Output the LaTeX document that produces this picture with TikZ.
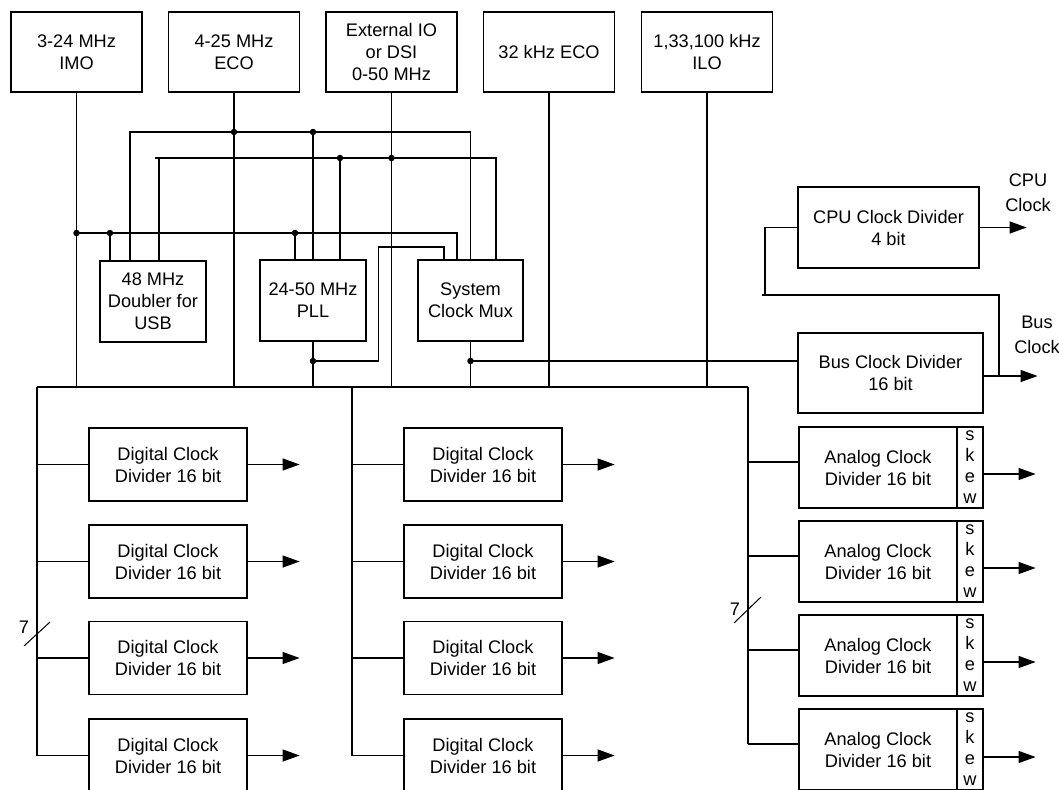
\documentclass[tikz,border=0pt]{standalone}
\usepackage{fontspec}
\setmainfont{Liberation Sans}
\usetikzlibrary{arrows.meta}
\begin{document}
\begin{tikzpicture}[x=1pt,y=-1pt,line width=1.2pt,
  txt/.style={font=\fontsize{18.2}{22}\selectfont},
  box/.style={draw,inner sep=0pt,align=center,txt},
  src/.style={box,minimum width=131pt,minimum height=80pt},
  mid/.style={box,minimum width=106pt,minimum height=81pt},
  dig/.style={box,minimum width=158pt,minimum height=73pt},
  ana/.style={box,minimum width=158pt,minimum height=81pt},
  skw/.style={box,minimum width=26pt,minimum height=81pt,font=\fontsize{18.2}{21}\selectfont},
  lbl/.style={align=center,inner sep=0pt,font=\fontsize{18.2}{25.5}\selectfont},
  arr/.style={-{Triangle[length=17pt,width=12pt]}},
  dot/.style={circle,fill=black,inner sep=0pt,minimum size=6.5pt}]
\useasboundingbox (0,0) rectangle (1059,789);
\fill[white] (0,0) rectangle (1059,789);
\clip (0,0) rectangle (1059,789);

% sources
\node[src] (imo)   at (76.5,52) {3-24 MHz\\IMO};
\node[src] (eco)   at (234,52)  {4-25 MHz\\ECO};
\node[src] (ext)   at (391.5,52){External IO\\or DSI\\0-50 MHz};
\node[src] (eco32) at (549,52)  {32 kHz ECO};
\node[src] (ilo)   at (707,52)  {1,33,100 kHz\\ILO};

% middle blocks
\node[mid] (dbl) at (153,301.5) {48 MHz\\Doubler for\\USB};
\node[mid] (pll) at (313,300.5) {24-50 MHz\\PLL};
\node[mid,minimum width=105pt] (mux) at (470.5,300.5) {System\\Clock Mux};

% cpu / bus dividers
\node[box,minimum width=181pt,minimum height=81pt] (cpu) at (888.5,227.5) {CPU Clock Divider\\4 bit};
\node[box,minimum width=185pt,minimum height=80pt] (bus) at (890.5,373) {Bus Clock Divider\\16 bit};
\node[lbl] (cpulbl) at (1028,192.5) {CPU\\Clock};
\node[lbl] (buslbl) at (1037,335) {Bus\\Clock};

% digital dividers
\foreach \i/\y in {1/464.5,2/561.5,3/658,4/755.5}{
  \node[dig] (d\i) at (168,\y) {Digital Clock\\Divider 16 bit};
  \node[dig] (m\i) at (483,\y) {Digital Clock\\Divider 16 bit};
}
% analog dividers
\foreach \i/\y in {1/467.5,2/561.5,3/655.5,4/749.5}{
  \node[ana] (a\i) at (878,\y) {Analog Clock\\Divider 16 bit};
  \node[skw] (a\i s) at (970,\y) {s\\k\\e\\w};
}

% helper coordinates
\coordinate (yA) at (0,132);
\coordinate (yB) at (0,158);
\coordinate (yC) at (0,233);
\coordinate (yD) at (0,247);
\coordinate (yE) at (0,361);
\coordinate (xa) at (130,0);
\coordinate (xb) at (159,0);
\coordinate (xbs) at (155,0);
\coordinate (xc) at (110,0);
\coordinate (xp1) at (295,0);
\coordinate (xp3) at (340,0);
\coordinate (xd) at (378.7,0);
\coordinate (xm1) at (444,0);
\coordinate (xm2) at (457,0);
\coordinate (xm4) at (496,0);
\coordinate (busL) at (37,387);
\coordinate (busM) at (352,387);
\coordinate (busR) at (748,387);

% source outputs down to bus
\foreach \n in {imo,eco,ext,eco32,ilo}{
  \draw (\n.south) -- (\n.south |- busL);
}
\draw (busL) -- (busR);

% line A (ECO)
\draw (xa |- dbl.north) -- (xa |- yA) -- (mux.north |- yA) -- (mux.north);
\draw (pll.north) -- (pll.north |- yA);
\node[dot] (dA1) at (eco.south |- yA) {};
\node[dot] (dA2) at (pll.north |- yA) {};

% line B (External IO)
\draw (xb |- dbl.north) -- (xb |- yB);
\draw (xbs |- yB) -- (xm4 |- yB) -- (xm4 |- mux.north);
\draw (xp3 |- pll.north) -- (xp3 |- yB);
\node[dot] (dB1) at (xp3 |- yB) {};
\node[dot] (dB2) at (ext.south |- yB) {};

% line C (IMO)
\draw (imo.south |- yC) -- (xm2 |- yC) -- (xm2 |- mux.north);
\draw (xc |- yC) -- (xc |- dbl.north);
\draw (xp1 |- yC) -- (xp1 |- pll.north);
\node[dot] (dC1) at (imo.south |- yC) {};
\node[dot] (dC2) at (xc |- yC) {};
\node[dot] (dC3) at (xp1 |- yC) {};

% PLL output
\draw (pll.south) -- (pll.south |- busL);
\draw (pll.south |- yE) -- (xd |- yE) -- (xd |- yD) -- (xm1 |- yD) -- (xm1 |- mux.north);
\node[dot] (dD) at (pll.south |- yE) {};

% mux output
\draw (mux.south) -- (mux.south |- busL);
\draw (mux.south |- yE) -- (bus.west |- yE);
\node[dot] (dE) at (mux.south |- yE) {};

% CPU / bus clock
\coordinate (fb1) at (765,295);
\coordinate (fb0) at (762,295);
\coordinate (fb2) at (999,376);
\draw (cpu.west) -| (fb1);
\draw (fb0) -- (fb2 |- fb1) -- (fb2);
\draw[arr] (cpu.east) -- ++(47,0);
\draw[arr] (bus.east |- fb2) -- ++(54,0);

% digital columns
\draw (busL) -- (busL |- d4.west);
\draw (busM) -- (busM |- m4.west);
\foreach \i in {1,2,3,4}{
  \draw (d\i.west) -- (d\i.west -| busL);
  \draw (m\i.west) -- (m\i.west -| busM);
  \draw[arr] (d\i.east) -- ++(52,0);
  \draw[arr] (m\i.east) -- ++(52,0);
}

% analog column
\foreach \i/\yb/\yo in {1/462/474,2/556/568,3/650/662,4/744/757}{
  \coordinate (ab\i) at (0,\yb);
  \coordinate (ao\i) at (0,\yo);
  \draw (a\i.west |- ab\i) -- (busR |- ab\i);
  \draw[arr] (a\i s.east |- ao\i) -- ++(52,0);
}
\draw (busR) -- (busR |- ab4);

% bus width marks
\node[txt,inner sep=0pt] (n7a) at (24,627) {7};
\draw[line width=1pt] (24,646) -- (50,622);
\node[txt,inner sep=0pt] (n7b) at (735,609) {7};
\draw[line width=1pt] (734,623) -- (761,597);
\end{tikzpicture}
\end{document}
